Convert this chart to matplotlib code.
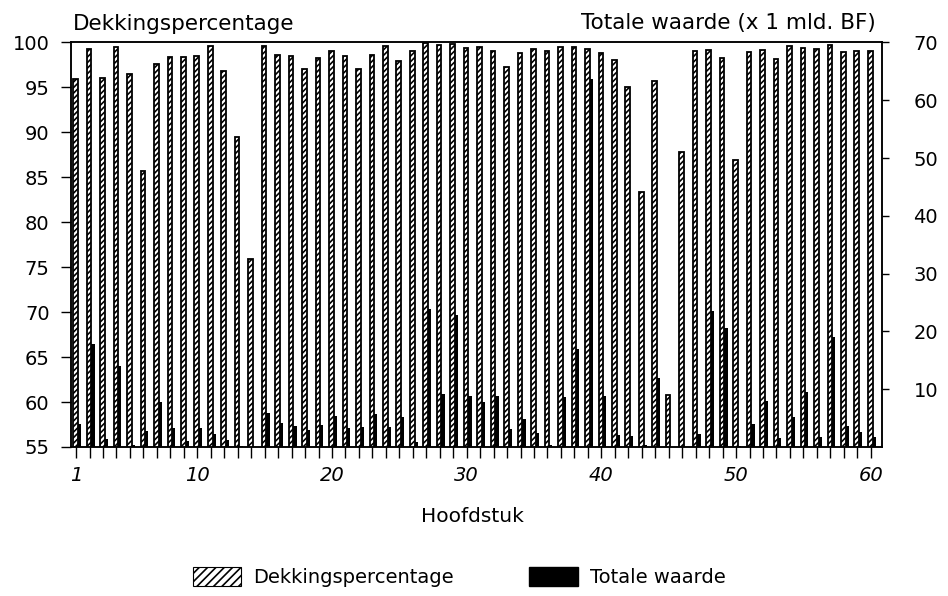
import numpy as np
import matplotlib.pyplot as plt
from matplotlib.patches import Patch

hoofdstuk=np.arange(1,61)
dekking=[95.9,99.3,96.0,99.5,96.5,85.7,97.6,98.4,98.4,98.5,
         99.6,96.8,89.5,75.9,99.6,98.6,98.5,97.1,98.3,99.0,
         98.5,97.1,98.6,99.6,97.9,99.1,99.9,99.7,99.8,99.4,
         99.5,99.0,97.3,98.8,99.3,99.0,99.55,99.45,99.3,98.8,
         98.0,95.0,83.4,95.7,60.8,87.8,99.0,99.2,98.3,86.9,
         98.95,99.2,98.2,99.6,99.4,99.3,99.7,98.9,99.0,99.0]
totale=[3.9,17.85,1.4,14.0,0.26,2.85,7.75,3.3,1.0,3.3,
        2.2,1.24,0.1,0.0,5.8,4.1,3.55,3.0,3.8,5.3,
        3.3,3.5,5.7,3.4,5.2,0.95,23.8,9.2,22.9,8.8,
        7.8,8.8,3.1,4.9,2.45,0.26,8.6,16.9,63.6,8.8,
        2.0,1.9,0.4,12.0,0.0,0.0,2.3,23.5,20.6,0.1,
        4.0,7.9,1.6,5.2,9.6,1.7,19.1,3.6,2.6,1.7]
xlabels=[1,10,20,30,40,50,60]

plt.rcParams['font.family']='DejaVu Sans'
plt.rcParams['hatch.linewidth']=1.2

fig=plt.figure(figsize=(9.48,5.96),dpi=100)
ax=fig.add_axes([0.0744,0.25,0.8555,0.6787])
ax2=ax.twinx()

# gearceerde balken links, zwarte balken rechts van het streepje
ax.bar(hoofdstuk-0.04,dekking,width=0.34,color='white',edgecolor='black',hatch='//////',linewidth=1.3)
ax2.bar(hoofdstuk+0.25,totale,width=0.24,color='black',linewidth=0)

ax.set_xlim(0.59,60.8)
ax.set_ylim(55,100)
ax2.set_ylim(0,70)

ax.set_yticks(np.arange(55,101,5))
ax2.set_yticks(np.arange(10,71,10))
ax.set_xticks(hoofdstuk)
ax.set_xticklabels([str(i) if i in xlabels else '' for i in hoofdstuk],fontstyle='italic')

ax.tick_params(axis='y',direction='out',length=7,width=1,labelsize=14,pad=8)
ax.tick_params(axis='x',direction='out',length=8,width=1,labelsize=14,pad=6)
ax2.tick_params(axis='y',direction='out',length=5,width=1,labelsize=14,pad=18)
for a in (ax,ax2):
    for s in a.spines.values():
        s.set_linewidth(1.1)

fig.text(73/948,1-29.5/596,"Dekkingspercentage",fontsize=15.5,ha='left',va='baseline')
fig.text(876/948,1-29.5/596,"Totale waarde (x 1 mld. BF)",fontsize=15.5,ha='right',va='baseline')
fig.text(472/948,1-517/596,"Hoofdstuk",fontsize=14.5,ha='center',va='center')

handles=[Patch(facecolor='white',edgecolor='black',hatch='////',linewidth=0.8,label='Dekkingspercentage'),
         Patch(facecolor='black',edgecolor='black',label='Totale waarde')]
fig.legend(handles=handles,ncol=2,frameon=False,loc='center',bbox_to_anchor=(459/948,1-577/596),
           fontsize=14,handlelength=2.5,handleheight=1.1,handletextpad=0.6,columnspacing=3.9)

plt.savefig('out.png',dpi=100)
